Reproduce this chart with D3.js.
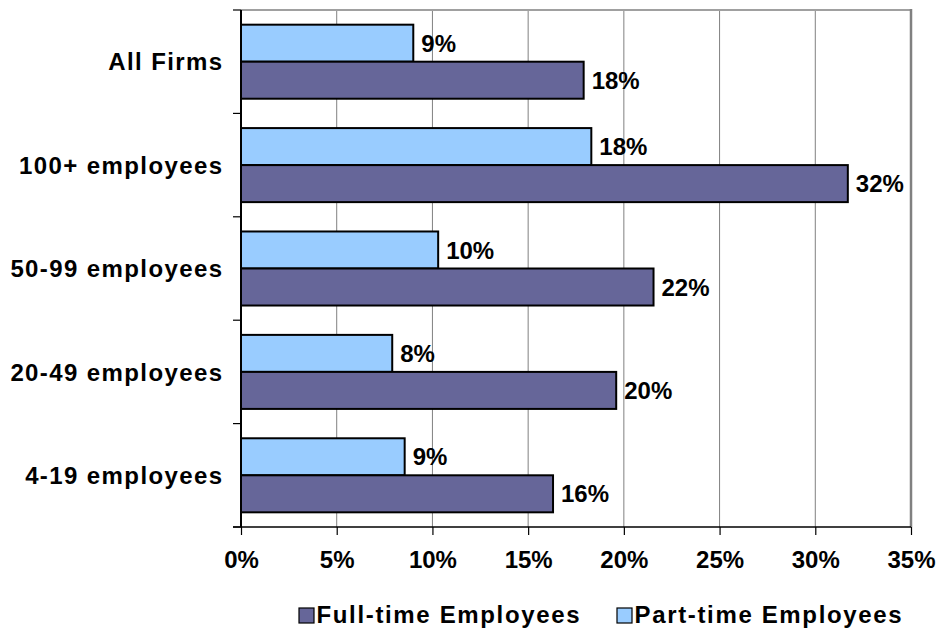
<!DOCTYPE html>
<html>
<head>
<meta charset="utf-8">
<script src="https://cdn.jsdelivr.net/npm/d3@7"></script>
<style>
  html, body { margin: 0; padding: 0; background: #fff; }
  svg { display: block; font-family: "Liberation Sans", Arial, sans-serif; font-weight: bold; }
</style>
</head>
<body>
<svg id="chart" width="940" height="629"></svg>
<script>
// Share of employees by firm size, full-time vs part-time
const categories = ["All Firms", "100+ employees", "50-99 employees", "20-49 employees", "4-19 employees"];
const seriesNames = ["Part-time Employees", "Full-time Employees"];
const partTime = [0.090, 0.183, 0.103, 0.079, 0.0855];
const fullTime = [0.179, 0.317, 0.2155, 0.196, 0.163];
const xTicks = [0, 0.05, 0.10, 0.15, 0.20, 0.25, 0.30, 0.35];
const legendOrder = ["Full-time Employees", "Part-time Employees"];

const colors = { "Full-time Employees": "#666699", "Part-time Employees": "#99CCFF" };
const valuesBySeries = { "Part-time Employees": partTime, "Full-time Employees": fullTime };

const svg = d3.select("#chart");
const plot = { left: 241, right: 911, top: 10, bottom: 527 };

const x = d3.scaleLinear().domain([0, 0.35]).range([plot.left, plot.right]);
const y = d3.scaleBand().domain(categories).range([plot.top, plot.bottom])
  .paddingInner(0.284).paddingOuter(0.142);
const ySub = d3.scaleBand().domain(seriesNames).range([0, y.bandwidth()]).padding(0);

const rows = categories.map((c, i) => ({
  category: c,
  values: seriesNames.map(s => ({ series: s, value: valuesBySeries[s][i] }))
}));

// vertical gridlines
svg.append("g")
  .selectAll("line")
  .data(xTicks.slice(1, -1))
  .join("line")
  .attr("x1", d => x(d)).attr("x2", d => x(d))
  .attr("y1", plot.top).attr("y2", plot.bottom)
  .attr("stroke", "#808080").attr("stroke-width", 1);

// plot frame (top and right)
svg.append("line")
  .attr("x1", plot.left).attr("x2", plot.right)
  .attr("y1", plot.top).attr("y2", plot.top)
  .attr("stroke", "#a0a0a0").attr("stroke-width", 2);
svg.append("line")
  .attr("x1", plot.right).attr("x2", plot.right)
  .attr("y1", plot.top - 1).attr("y2", plot.bottom)
  .attr("stroke", "#808080").attr("stroke-width", 2.5);

// bars
const groups = svg.append("g")
  .selectAll("g")
  .data(rows)
  .join("g")
  .attr("transform", d => `translate(0,${y(d.category)})`);

groups.selectAll("rect")
  .data(d => d.values)
  .join("rect")
  .attr("x", x(0))
  .attr("y", d => ySub(d.series))
  .attr("width", d => x(d.value) - x(0))
  .attr("height", ySub.bandwidth())
  .attr("fill", d => colors[d.series])
  .attr("stroke", "#000")
  .attr("stroke-width", 2);

// value labels
const fmt = d3.format(".0%");
groups.selectAll("text")
  .data(d => d.values)
  .join("text")
  .attr("x", d => x(d.value) + 8)
  .attr("y", d => ySub(d.series) + ySub.bandwidth() / 2)
  .attr("dy", "0.36em")
  .attr("font-size", 24)
  .attr("fill", "#000")
  .text(d => fmt(d.value));

// x axis
const xAxis = d3.axisBottom(x)
  .tickValues(xTicks)
  .tickFormat(d3.format(".0%"))
  .tickSize(8)
  .tickSizeOuter(0)
  .tickPadding(16);
const gx = svg.append("g")
  .attr("transform", `translate(0,${plot.bottom})`)
  .call(xAxis);
gx.select(".domain").remove();
gx.selectAll(".tick line").attr("stroke", "#000").attr("stroke-width", 1.2);
gx.selectAll(".tick text")
  .attr("font-size", 24).attr("font-weight", "bold")
  .attr("font-family", "Liberation Sans, Arial, sans-serif")
  .attr("fill", "#000");
svg.append("line")
  .attr("x1", plot.left - 8).attr("x2", plot.right)
  .attr("y1", plot.bottom).attr("y2", plot.bottom)
  .attr("stroke", "#000").attr("stroke-width", 1.6);

// y axis: ticks at category boundaries
const boundaries = d3.range(categories.length + 1)
  .map(i => plot.top + i * (plot.bottom - plot.top) / categories.length);
svg.append("g")
  .selectAll("line")
  .data(boundaries)
  .join("line")
  .attr("x1", plot.left - 8).attr("x2", plot.left)
  .attr("y1", d => d).attr("y2", d => d)
  .attr("stroke", "#000").attr("stroke-width", 1.2);
svg.append("line")
  .attr("x1", plot.left).attr("x2", plot.left)
  .attr("y1", plot.top).attr("y2", plot.bottom)
  .attr("stroke", "#000").attr("stroke-width", 2);

// category labels
svg.append("g")
  .selectAll("text")
  .data(categories)
  .join("text")
  .attr("x", 223.5)
  .attr("y", d => y(d) + y.bandwidth() / 2)
  .attr("dy", "0.36em")
  .attr("text-anchor", "end")
  .attr("font-size", 24)
  .attr("letter-spacing", 1.4)
  .attr("fill", "#000")
  .text(d => d);

// legend
const legendX = { "Full-time Employees": 299, "Part-time Employees": 617 };
const legend = svg.append("g")
  .selectAll("g")
  .data(legendOrder)
  .join("g")
  .attr("transform", d => `translate(${legendX[d]},608)`);
legend.append("rect")
  .attr("width", 15).attr("height", 15)
  .attr("fill", d => colors[d])
  .attr("stroke", "#000").attr("stroke-width", 1.2);
legend.append("text")
  .attr("x", 17.5).attr("y", 15)
  .attr("font-size", 24)
  .attr("letter-spacing", 1.65)
  .attr("fill", "#000")
  .text(d => d);
</script>
</body>
</html>
